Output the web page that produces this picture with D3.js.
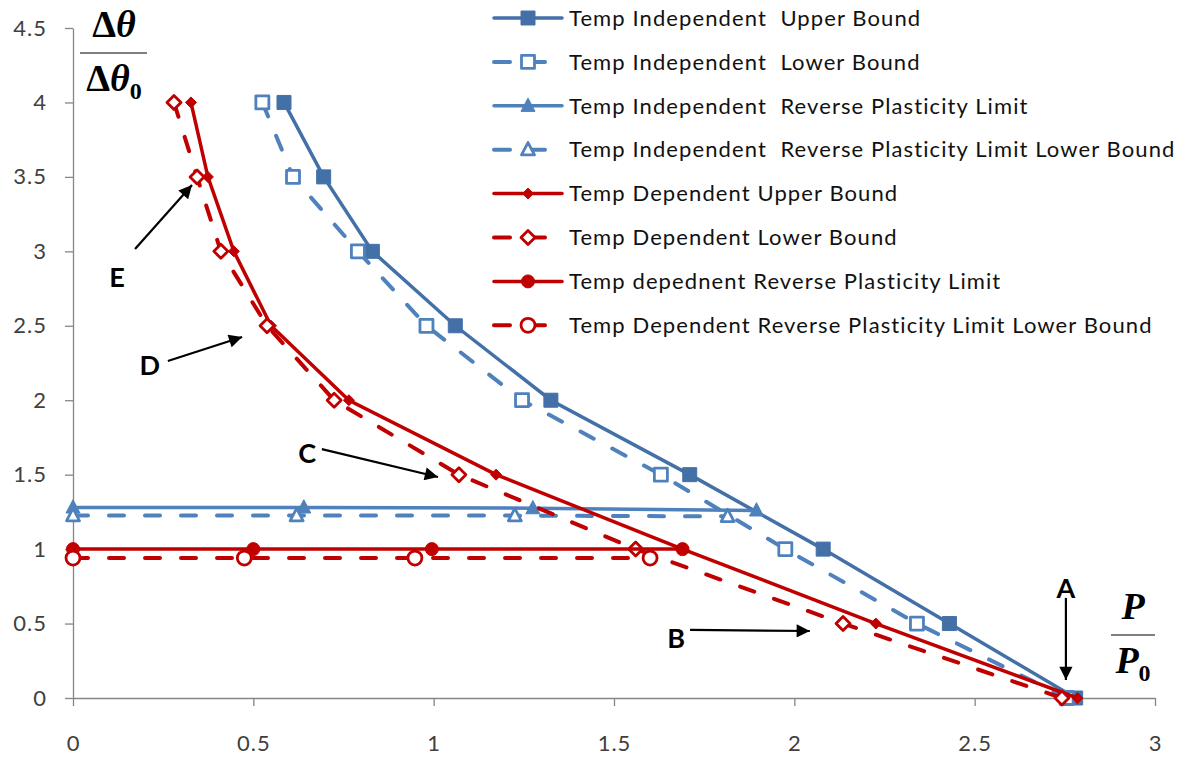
<!DOCTYPE html>
<html>
<head>
<meta charset="utf-8">
<script src="https://cdn.jsdelivr.net/npm/d3@7"></script>
<style>
  body { margin: 0; background: #fff; }
  svg { display: block; }
  .tick text { font-family: Lato, "Open Sans", sans-serif; font-size: 22px; letter-spacing: 1px; fill: #404040; }
</style>
</head>
<body>
<svg id="chart" width="1186" height="758"></svg>
<script>
  var width = 1186;
  var height = 758;

  // values (x = P/P0, y = dtheta/dtheta0)
  var indepUpperX = [0.585, 0.695, 0.83, 1.06, 1.325, 1.71, 2.08, 2.43, 2.78];
  var indepUpperY = [4, 3.5, 3, 2.5, 2, 1.5, 1, 0.5, 0];
  var indepLowerX = [0.525, 0.61, 0.79, 0.98, 1.245, 1.63, 1.975, 2.34, 2.755];
  var indepLowerY = [4, 3.5, 3, 2.5, 2, 1.5, 1, 0.5, 0];
  var indepRplX = [0, 0.64, 1.275, 1.895];
  var indepRplY = [1.28, 1.28, 1.275, 1.26];
  var indepRplLowX = [0, 0.62, 1.225, 1.815];
  var indepRplLowY = [1.225, 1.225, 1.225, 1.22];
  var depUpperX = [0.327, 0.374, 0.446, 0.549, 0.765, 1.173, 1.69, 2.226, 2.785];
  var depUpperY = [4, 3.5, 3, 2.5, 2, 1.5, 1, 0.5, 0];
  var depLowerX = [0.28, 0.344, 0.41, 0.538, 0.724, 1.07, 1.56, 2.135, 2.742];
  var depLowerY = [4, 3.5, 3, 2.5, 2, 1.5, 1, 0.5, 0];
  var depRplX = [0, 0.5, 0.995, 1.69];
  var depRplY = [1, 1, 1, 1];
  var depRplLowX = [0, 0.475, 0.948, 1.6];
  var depRplLowY = [0.94, 0.94, 0.94, 0.94];

  var seriesNames = [
    "Temp Independent  Upper Bound",
    "Temp Independent  Lower Bound",
    "Temp Independent  Reverse Plasticity Limit",
    "Temp Independent  Reverse Plasticity Limit Lower Bound",
    "Temp Dependent Upper Bound",
    "Temp Dependent Lower Bound",
    "Temp depednent Reverse Plasticity Limit",
    "Temp Dependent Reverse Plasticity Limit Lower Bound"
  ];

  var xTicks = [0, 0.5, 1, 1.5, 2, 2.5, 3];
  var yTicks = [0, 0.5, 1, 1.5, 2, 2.5, 3, 3.5, 4, 4.5];

  // annotation letters and arrows, in data units
  var annotLabels = ["A", "B", "C", "D", "E"];
  var annotLabelX = [2.753, 1.672, 0.649, 0.213, 0.122];
  var annotLabelY = [0.739, 0.403, 1.646, 2.237, 2.828];
  var arrowFromX = [2.753, 1.711, 0.69, 0.263, 0.172];
  var arrowFromY = [0.672, 0.457, 1.672, 2.263, 3.016];
  var arrowToX = [2.753, 2.043, 1.012, 0.469, 0.33];
  var arrowToY = [0.121, 0.45, 1.484, 2.425, 3.445];

  var blueDark = "#4470a8", blue = "#4f81bd", red = "#c00000";

  var series = [
    { name: seriesNames[0], xs: indepUpperX, ys: indepUpperY, color: blueDark, dash: false, mark: "square", fill: true },
    { name: seriesNames[1], xs: indepLowerX, ys: indepLowerY, color: blue, dash: true, mark: "square", fill: false },
    { name: seriesNames[2], xs: indepRplX, ys: indepRplY, color: blue, dash: false, mark: "triangle", fill: true },
    { name: seriesNames[3], xs: indepRplLowX, ys: indepRplLowY, color: blue, dash: true, mark: "triangle", fill: false },
    { name: seriesNames[4], xs: depUpperX, ys: depUpperY, color: red, dash: false, mark: "diamond", fill: true },
    { name: seriesNames[5], xs: depLowerX, ys: depLowerY, color: red, dash: true, mark: "diamond", fill: false },
    { name: seriesNames[6], xs: depRplX, ys: depRplY, color: red, dash: false, mark: "circle", fill: true },
    { name: seriesNames[7], xs: depRplLowX, ys: depRplLowY, color: red, dash: true, mark: "circle", fill: false }
  ];

  var x = d3.scaleLinear().domain([0, 3]).range([73, 1155]);
  var y = d3.scaleLinear().domain([0, 4.5]).range([698, 28]);

  var svg = d3.select("#chart");

  // axes
  svg.append("g")
    .attr("transform", "translate(0," + y(0) + ")")
    .call(d3.axisBottom(x).tickValues(xTicks).tickSize(8).tickSizeOuter(0).tickPadding(29).tickFormat(d => String(d)));
  svg.append("g")
    .attr("transform", "translate(" + x(0) + ",0)")
    .call(d3.axisLeft(y).tickValues(yTicks).tickSize(8).tickSizeOuter(0).tickPadding(18).tickFormat(d => String(d)));
  svg.selectAll(".domain, .tick line").attr("stroke", "#868686").attr("stroke-width", 1.3);

  function markerPath(mark, fill) {
    if (mark == "square") { var s = fill ? 7 : 6.5; return `M${-s},${-s}h${2*s}v${2*s}h${-2*s}Z`; }
    if (mark == "triangle") { var s = fill ? 7 : 6.5; return `M0,${-s*1.1}L${s},${s*0.8}L${-s},${s*0.8}Z`; }
    if (mark == "diamond") { var s = fill ? 5.5 : 7; return `M0,${-s}L${s},0L0,${s}L${-s},0Z`; }
    var r = fill ? 6.5 : 7;
    return d3.symbol(d3.symbolCircle, Math.PI * r * r)();
  }

  function drawMarker(g, s, px, py) {
    g.append("path")
      .attr("d", markerPath(s.mark, s.fill))
      .attr("transform", `translate(${px},${py})`)
      .attr("fill", s.fill ? s.color : "#fff")
      .attr("stroke", s.color)
      .attr("stroke-width", s.fill ? 1 : 2.8)
      .attr("stroke-linejoin", "round");
  }

  var line = d3.line().x(d => x(d[0])).y(d => y(d[1]));

  var plot = svg.append("g");
  series.forEach(function (s) {
    var pts = s.xs.map((v, i) => [v, s.ys[i]]);
    var g = plot.append("g");
    g.append("path")
      .attr("d", line(pts))
      .attr("fill", "none")
      .attr("stroke", s.color)
      .attr("stroke-width", s.dash ? 4 : 3.5)
      .attr("stroke-linecap", "round")
      .attr("stroke-dasharray", s.dash ? "15,21" : null);
    pts.forEach(p => drawMarker(g, s, x(p[0]), y(p[1])));
  });

  // legend
  var legend = svg.append("g").attr("transform", "translate(0,18)");
  series.forEach(function (s, i) {
    var row = legend.append("g").attr("transform", "translate(0," + (i * 43.9) + ")");
    row.append("line")
      .attr("x1", 494).attr("x2", 562)
      .attr("stroke", s.color)
      .attr("stroke-width", s.dash ? 4 : 3.5)
      .attr("stroke-linecap", "round")
      .attr("stroke-dasharray", s.dash ? "16,19" : null);
    drawMarker(row, s, 528, 0);
    row.append("text")
      .attr("x", 569).attr("dy", "0.35em")
      .attr("font-family", "Lato, 'Open Sans', sans-serif")
      .attr("font-size", 22)
      .attr("letter-spacing", 1.1)
      .attr("fill", "#111")
      .style("white-space", "pre")
      .text(s.name);
  });

  // annotation arrows
  svg.append("defs").append("marker")
    .attr("id", "arrow").attr("viewBox", "0 0 10 10")
    .attr("refX", 10).attr("refY", 5)
    .attr("markerWidth", 6.5).attr("markerHeight", 6)
    .attr("markerUnits", "strokeWidth")
    .attr("orient", "auto")
    .append("path").attr("d", "M0,0L10,5L0,10Z").attr("fill", "#000");

  annotLabels.forEach(function (t, i) {
    svg.append("line")
      .attr("x1", x(arrowFromX[i])).attr("y1", y(arrowFromY[i]))
      .attr("x2", x(arrowToX[i])).attr("y2", y(arrowToY[i]))
      .attr("stroke", "#000").attr("stroke-width", 2.2)
      .attr("marker-end", "url(#arrow)");
    svg.append("text")
      .attr("x", x(annotLabelX[i])).attr("y", y(annotLabelY[i]))
      .attr("dy", "0.36em")
      .attr("text-anchor", "middle")
      .attr("font-family", "Lato, sans-serif")
      .attr("font-weight", "bold")
      .attr("font-size", 27)
      .attr("fill", "#000")
      .text(t);
  });

  // fraction axis titles
  function fraction(cx, lineY, x1, x2, top, bottom) {
    var g = svg.append("g")
      .attr("font-family", "'Liberation Serif', 'DejaVu Serif', serif")
      .attr("font-weight", "bold")
      .attr("font-size", 38)
      .attr("fill", "#000");
    var t1 = g.append("text").attr("x", cx).attr("y", lineY - 16).attr("text-anchor", "middle");
    top(t1);
    g.append("line").attr("x1", x1).attr("x2", x2).attr("y1", lineY).attr("y2", lineY)
      .attr("stroke", "#555").attr("stroke-width", 1.6);
    var t2 = g.append("text").attr("x", cx).attr("y", lineY + 38).attr("text-anchor", "middle");
    bottom(t2);
  }

  fraction(114, 53, 80, 147,
    t => { t.append("tspan").text("Δ"); t.append("tspan").attr("font-style", "italic").text("θ"); },
    t => {
      t.append("tspan").text("Δ");
      t.append("tspan").attr("font-style", "italic").text("θ");
      t.append("tspan").attr("font-size", 24).attr("dy", 8).text("0");
    });

  fraction(1133, 635, 1111, 1155,
    t => { t.append("tspan").attr("font-style", "italic").text("P"); },
    t => {
      t.append("tspan").attr("font-style", "italic").text("P");
      t.append("tspan").attr("font-size", 24).attr("dy", 8).text("0");
    });
</script>
</body>
</html>
